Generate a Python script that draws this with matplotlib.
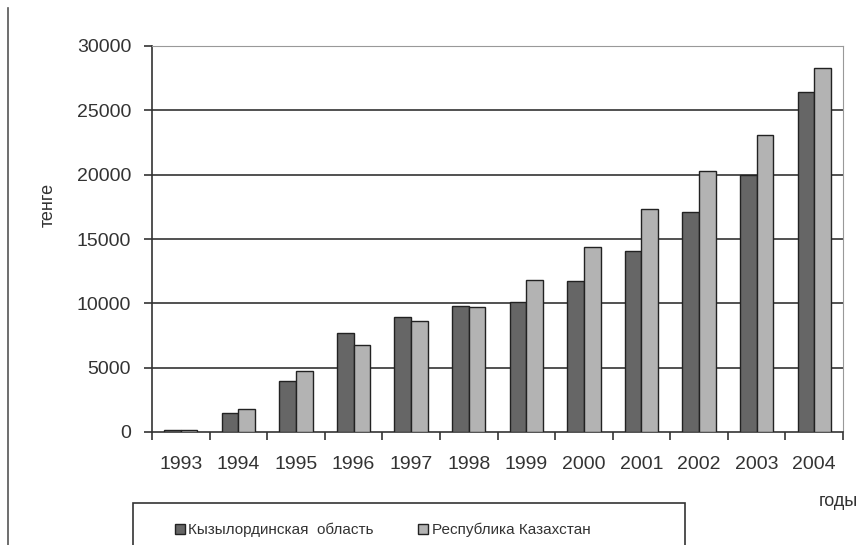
import matplotlib.pyplot as plt
import numpy as np
from matplotlib.patches import Rectangle, Patch

plt.rcParams['font.family'] = ['Liberation Sans', 'DejaVu Sans']

years = ['1993', '1994', '1995', '1996', '1997', '1998',
         '1999', '2000', '2001', '2002', '2003', '2004']
kyzylorda = [150, 1450, 4000, 7700, 8900, 9800, 10100, 11750, 14100, 17100, 19950, 26450]
kazakhstan = [150, 1750, 4750, 6800, 8600, 9700, 11850, 14400, 17300, 20300, 23100, 28300]
yticks = [0, 5000, 10000, 15000, 20000, 25000, 30000]

fig = plt.figure(figsize=(8.67, 5.45), dpi=100)
ax = fig.add_axes([152/867, 1-432/545, 691/867, 386/545])

x = np.arange(len(years))
w = 0.29
ax.bar(x - w/2, kyzylorda, w, color='#666666', edgecolor='#222222', linewidth=1, zorder=3)
ax.bar(x + w/2, kazakhstan, w, color='#b3b3b3', edgecolor='#222222', linewidth=1, zorder=3)

ax.set_xlim(-0.5, len(years) - 0.5)
ax.set_ylim(0, 30000)
ax.set_yticks(yticks)
ax.set_yticklabels([str(v) for v in yticks], fontsize=14, color='#333333')
for v in yticks[1:-1]:
    ax.axhline(v, color='#333333', linewidth=1.2, zorder=1)

# category ticks at boundaries, labels at centers
ax.set_xticks(np.arange(len(years) + 1) - 0.5)
ax.set_xticklabels([])
ax.set_xticks(x, minor=True)
ax.set_xticklabels(years, minor=True, fontsize=14, color='#333333')
ax.tick_params(axis='x', which='minor', length=0, pad=17)
ax.tick_params(axis='x', which='major', length=6, width=1.2, color='#333333', direction='out')
ax.tick_params(axis='y', length=6, width=1.2, color='#333333', direction='out', pad=9)

ax.spines['left'].set_color('#333333')
ax.spines['left'].set_linewidth(1.2)
ax.spines['bottom'].set_color('#333333')
ax.spines['bottom'].set_linewidth(1.2)
ax.spines['top'].set_color('#999999')
ax.spines['right'].set_color('#999999')

fig.text(48/867, 1-205/545, 'тенге', rotation=90, fontsize=13, color='#333333',
         ha='center', va='center')
fig.text(838/867, 1-502/545, 'годы', fontsize=13, color='#333333', ha='center', va='center')

# left border line of the original frame
fig.add_artist(plt.Line2D([8/867, 8/867], [0, 1-8/545], color='#555555', linewidth=1.2))

# legend box (cut off at the bottom)
fig.add_artist(Rectangle((133/867, -0.05), 552/867, 0.05 + 1-503/545,
                         transform=fig.transFigure, facecolor='none',
                         edgecolor='#333333', linewidth=1.2))
handles = [Patch(facecolor='#666666', edgecolor='#222222'),
           Patch(facecolor='#b3b3b3', edgecolor='#222222')]
fig.legend(handles, ['Кызылординская  область', 'Республика Казахстан'],
           loc='center left', bbox_to_anchor=(161/867, 1-530/545), ncol=2,
           frameon=False, fontsize=11, handlelength=0.65, handleheight=0.65,
           handletextpad=0.25, columnspacing=2.9, labelcolor='#333333')

fig.savefig('out.png', dpi=100)
